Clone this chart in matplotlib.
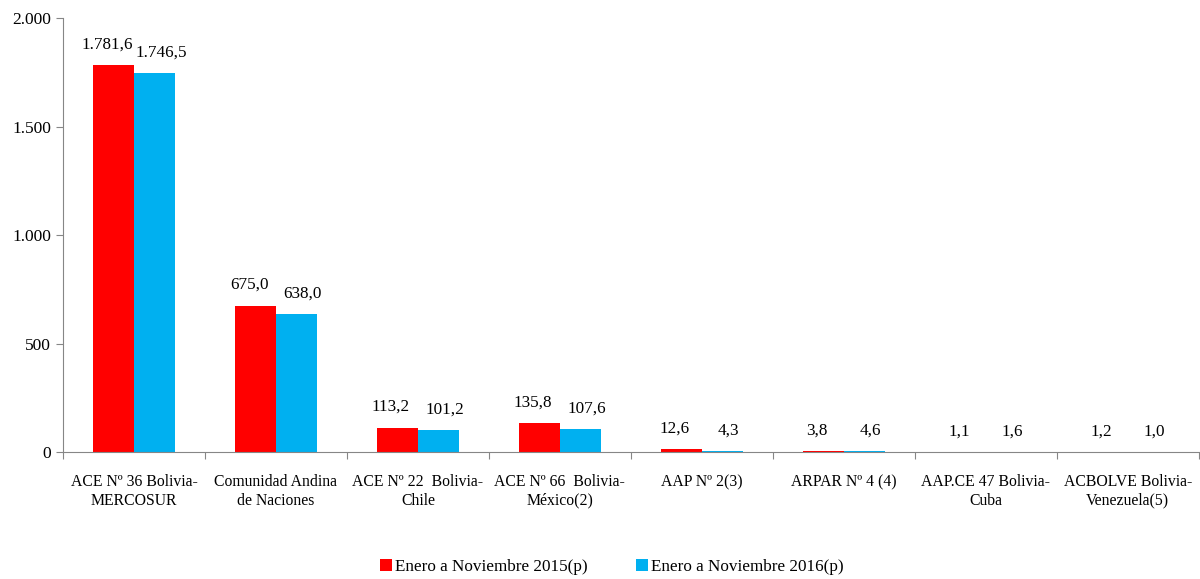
"""Bar chart: exports by trade agreement, Jan-Nov 2015 vs 2016."""
import matplotlib
matplotlib.use("Agg")
import matplotlib.pyplot as plt
import numpy as np
from matplotlib.ticker import FuncFormatter

CATEGORIES = [
    "ACE Nº 36 Bolivia-\nMERCOSUR",
    "Comunidad Andina\nde Naciones",
    "ACE Nº 22  Bolivia-\nChile",
    "ACE Nº 66  Bolivia-\nMéxico(2)",
    "AAP Nº 2(3)",
    "ARPAR Nº 4 (4)",
    "AAP.CE 47 Bolivia-\nCuba",
    "ACBOLVE Bolivia-\nVenezuela(5)",
]
VALUES_2015 = [1781.6, 675.0, 113.2, 135.8, 12.6, 3.8, 1.1, 1.2]
VALUES_2016 = [1746.5, 638.0, 101.2, 107.6, 4.3, 4.6, 1.6, 1.0]
LABELS = ["Enero a Noviembre 2015(p)", "Enero a Noviembre 2016(p)"]
YTICKS = [0, 500, 1000, 1500, 2000]

RED = "#FF0000"
BLUE = "#00B0F0"
GREY = "#868686"


def _fmt_num(v, decimals=1):
    s = f"{v:,.{decimals}f}"
    return s.replace(",", "X").replace(".", ",").replace("X", ".")


def _main() -> None:
    plt.rcParams["font.family"] = ["Liberation Serif", "DejaVu Serif"]
    fig = plt.figure(figsize=(12, 5.79), dpi=100)
    ax = fig.add_axes([0.0525, 0.219, 0.9465, 0.75])

    x = np.arange(len(CATEGORIES))
    width = 0.29
    bars1 = ax.bar(x - width / 2, VALUES_2015, width, color=RED, label=LABELS[0])
    bars2 = ax.bar(x + width / 2, VALUES_2016, width, color=BLUE, label=LABELS[1])

    for bars, dx in ((bars1, -4.5), (bars2, 4.5)):
        for b in bars:
            ax.annotate(_fmt_num(b.get_height()),
                        (b.get_x() + b.get_width() / 2, b.get_height()),
                        xytext=(dx, 9), textcoords="offset points",
                        ha="center", va="bottom", fontsize=12.3)

    ax.set_xlim(-0.5, len(CATEGORIES) - 0.5)
    ax.set_ylim(0, 2000)
    ax.set_yticks(YTICKS)
    ax.yaxis.set_major_formatter(FuncFormatter(lambda v, _: _fmt_num(v, 0)))
    ax.set_xticks(np.arange(len(CATEGORIES) + 1) - 0.5)
    ax.set_xticklabels([])
    ax.set_xticks(x, minor=True)
    ax.set_xticklabels(CATEGORIES, minor=True, fontsize=11.3)
    ax.tick_params(axis="x", which="minor", length=0, pad=16)
    ax.tick_params(axis="x", which="major", length=5, color=GREY)
    ax.tick_params(axis="y", length=5, color=GREY, labelsize=12.5)

    for side in ("top", "right"):
        ax.spines[side].set_visible(False)
    for side in ("left", "bottom"):
        ax.spines[side].set_color(GREY)

    fig.legend(loc="lower center", ncol=2, frameon=False, fontsize=12.3,
               handlelength=0.7, handleheight=0.7, handletextpad=0.2,
               columnspacing=2.8, bbox_to_anchor=(0.51, -0.02))

    fig.savefig("out.png", dpi=100, facecolor="w")


if __name__ == "__main__":
    _main()
